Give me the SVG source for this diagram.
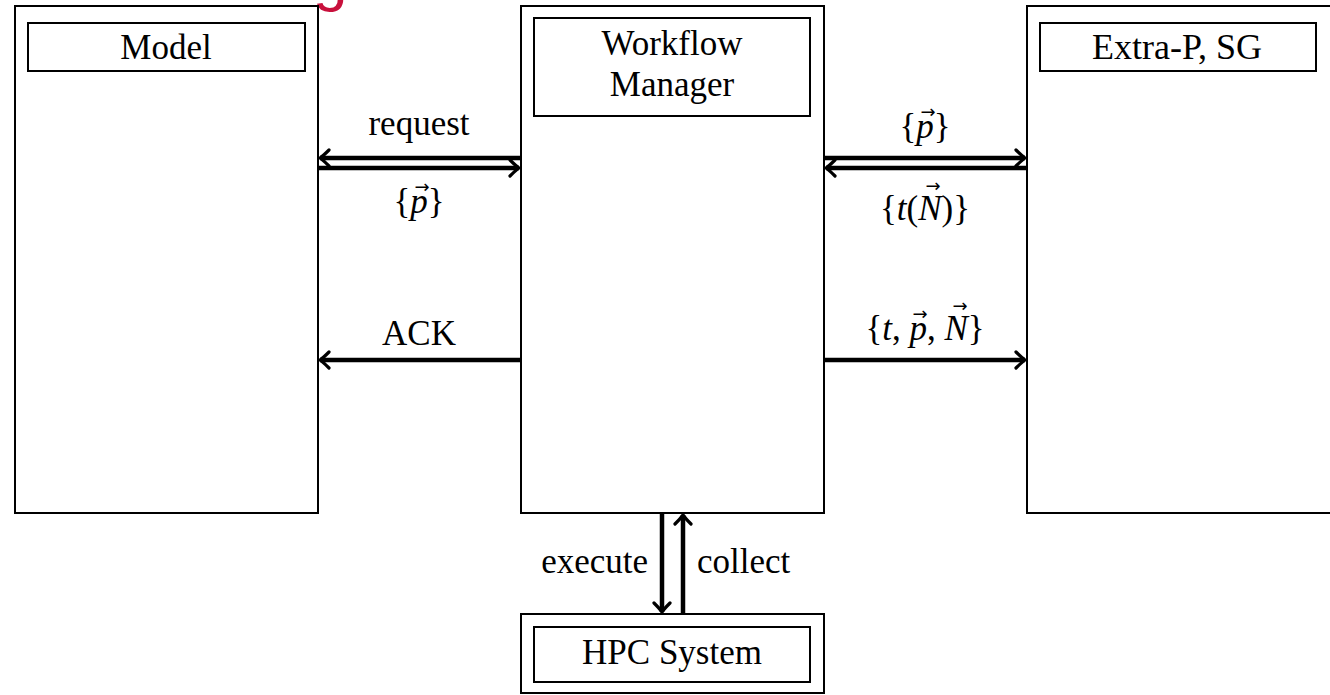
<svg xmlns="http://www.w3.org/2000/svg" width="1330" height="695" viewBox="0 0 1330 695">
<style>
.box{fill:#fff;stroke:#000;stroke-width:2}
.inner{fill:none;stroke:#000;stroke-width:2}
.t{font-family:"Liberation Serif","DejaVu Serif",serif;font-size:35px;fill:#000;text-anchor:middle}
.tr{font-family:"Liberation Serif","DejaVu Serif",serif;font-size:36px;fill:#000;text-anchor:middle}
.i{font-style:italic}
.vec{font-family:"DejaVu Sans",sans-serif;font-size:18px;fill:#000;text-anchor:middle}
.c{fill:none;stroke:#000;stroke-width:4.5}
</style>
<defs>
<marker id="ah" viewBox="-12 -10 14 20" refX="0" refY="0" markerWidth="14" markerHeight="20" markerUnits="userSpaceOnUse" orient="auto">
<path d="M -9 -8 Q -3 -2 0 0 Q -3 2 -9 8" fill="none" stroke="#000" stroke-width="3.2" stroke-linecap="round"/>
</marker>
</defs>
<rect width="1330" height="695" fill="#fff"/>
<text x="313" y="-1" font-family="Liberation Sans, Arial, sans-serif" font-size="62" fill="#c8103c">g</text>

<g id="model">
<rect class="box" x="15" y="6" width="303" height="507"/>
<rect class="inner" x="28" y="23" width="277" height="48"/>
<text class="t" x="166" y="59">Model</text>
</g>

<g id="workflow-manager">
<rect class="box" x="521" y="6" width="303" height="507"/>
<rect class="inner" x="534" y="18" width="276" height="98"/>
<text class="t" x="672" y="55">Workflow</text>
<text class="t" x="672" y="96">Manager</text>
</g>

<g id="extrap">
<rect class="box" x="1027" y="6" width="310" height="507"/>
<rect class="inner" x="1040" y="23" width="276" height="48"/>
<text class="tr" x="1177" y="59">Extra-P, SG</text>
</g>

<g id="hpc">
<rect class="box" x="521" y="614" width="303" height="79"/>
<rect class="inner" x="534" y="627" width="276" height="55"/>
<text class="t" x="672" y="664">HPC System</text>
</g>

<g id="connectors">
<path class="c" d="M 521 158 L 320 158" marker-end="url(#ah)"/>
<path class="c" d="M 318 168 L 519 168" marker-end="url(#ah)"/>
<path class="c" d="M 824 158 L 1025 158" marker-end="url(#ah)"/>
<path class="c" d="M 1027 168 L 826 168" marker-end="url(#ah)"/>
<path class="c" d="M 521 360 L 320 360" marker-end="url(#ah)"/>
<path class="c" d="M 824 360 L 1025 360" marker-end="url(#ah)"/>
<path class="c" d="M 662 513 L 662 612" marker-end="url(#ah)"/>
<path class="c" d="M 683 614 L 683 515" marker-end="url(#ah)"/>
</g>

<g id="labels">
<text class="t" x="419" y="135">request</text>
<text class="t" x="419" y="213">{<tspan class="i">p</tspan>}</text>
<text class="vec" x="422" y="193">→</text>
<text class="t" x="925" y="138">{<tspan class="i">p</tspan>}</text>
<text class="vec" x="928" y="118">→</text>
<text class="t" x="925" y="220">{<tspan class="i">t</tspan>(<tspan class="i">N</tspan>)}</text>
<text class="vec" x="933" y="192">→</text>
<text class="t" x="419" y="345">ACK</text>
<text class="t" x="925" y="340">{<tspan class="i">t</tspan>, <tspan class="i">p</tspan>, <tspan class="i">N</tspan>}</text>
<text class="vec" x="920" y="320">→</text>
<text class="vec" x="960" y="312">→</text>
<text class="t" x="648" y="573" style="text-anchor:end">execute</text>
<text class="t" x="697" y="573" style="text-anchor:start">collect</text>
</g>
</svg>
